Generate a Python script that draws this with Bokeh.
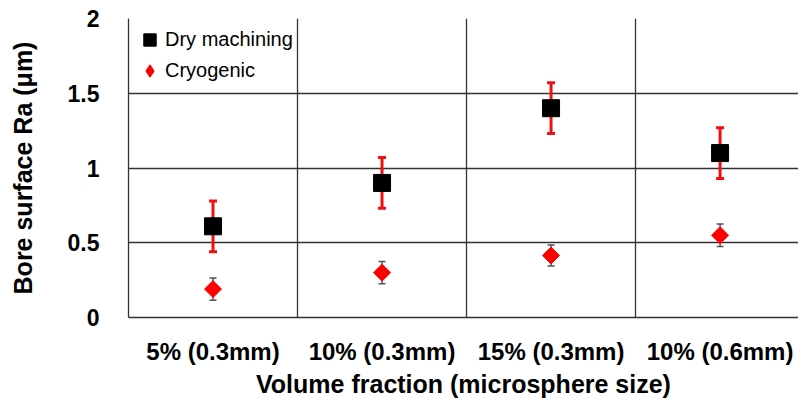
import math
from bokeh.plotting import figure
from bokeh.models import ColumnDataSource, Whisker, TeeHead, FixedTicker, Range1d, Legend, LegendItem
from bokeh.embed import file_html
from bokeh.resources import INLINE

categories = ["5% (0.3mm)", "10% (0.3mm)", "15% (0.3mm)", "10% (0.6mm)"]
dry_mean = [0.61, 0.90, 1.40, 1.10]
dry_err = [0.17, 0.17, 0.17, 0.17]
cryo_mean = [0.19, 0.30, 0.415, 0.55]
cryo_err = [0.075, 0.075, 0.07, 0.075]
y_ticks = [0, 0.5, 1, 1.5, 2]
y_tick_labels = ["0", "0.5", "1", "1.5", "2"]

xpos = [i + 0.5 for i in range(len(categories))]
FONT = "Liberation Sans"

dry = ColumnDataSource(dict(x=xpos, y=dry_mean,
                            lo=[m - e for m, e in zip(dry_mean, dry_err)],
                            hi=[m + e for m, e in zip(dry_mean, dry_err)]))
cryo = ColumnDataSource(dict(x=xpos, y=cryo_mean,
                             lo=[m - e for m, e in zip(cryo_mean, cryo_err)],
                             hi=[m + e for m, e in zip(cryo_mean, cryo_err)]))

p = figure(width=798, height=400, output_backend="svg", toolbar_location=None,
           x_range=Range1d(0, 3.964), y_range=Range1d(0, 2),
           min_border_left=128, min_border_right=0, min_border_top=18, min_border_bottom=83)
p.outline_line_color = None
p.background_fill_color = "white"

# error bars
wd = Whisker(source=dry, base="x", upper="hi", lower="lo", line_color="#ee1111", line_width=3,
             upper_head=TeeHead(size=8, line_color="#ee1111", line_width=3),
             lower_head=TeeHead(size=8, line_color="#ee1111", line_width=3))
wc = Whisker(source=cryo, base="x", upper="hi", lower="lo", line_color="#555555", line_width=1.5,
             upper_head=TeeHead(size=7, line_color="#555555", line_width=1.5),
             lower_head=TeeHead(size=7, line_color="#555555", line_width=1.5))
p.add_layout(wd)
p.add_layout(wc)

r_dry = p.scatter("x", "y", source=dry, marker="square", size=17, fill_color="black", line_color="black")
# diamond glyph (used for the legend key), covered by the rotated square of the same colour
r_cryo = p.scatter("x", "y", source=cryo, marker="diamond", size=12, fill_color="#ff0000", line_color="#ff0000")
p.scatter("x", "y", source=cryo, marker="square", size=12, angle=math.pi / 4,
          fill_color="#ff0000", line_color="#ff0000")

# grids
p.xgrid.ticker = FixedTicker(ticks=[1, 2, 3])
p.ygrid.ticker = FixedTicker(ticks=[0.5, 1, 1.5, 2])
for g in (p.xgrid, p.ygrid):
    g.grid_line_color = "#333333"
    g.grid_line_width = 1.3
    g.grid_line_alpha = 1

# axes
p.xaxis.ticker = FixedTicker(ticks=xpos)
p.xaxis.major_label_overrides = {x: c for x, c in zip(xpos, categories)}
p.yaxis.ticker = FixedTicker(ticks=y_ticks)
p.yaxis.major_label_overrides = {t: l for t, l in zip(y_ticks, y_tick_labels)}
for ax in (p.xaxis, p.yaxis):
    ax.axis_line_color = "#333333"
    ax.axis_line_width = 1.3
    ax.major_tick_line_color = None
    ax.minor_tick_line_color = None
    ax.major_label_text_font = FONT
    ax.major_label_text_font_style = "bold"
    ax.major_label_text_color = "black"
    ax.axis_label_text_font = FONT
    ax.axis_label_text_font_style = "bold"
    ax.axis_label_text_color = "black"
p.xaxis.major_label_text_font_size = "24px"
p.yaxis.major_label_text_font_size = "23px"
p.xaxis.major_label_standoff = 14
p.yaxis.major_label_standoff = 23
p.xaxis.axis_label = "Volume fraction (microsphere size)"
p.yaxis.axis_label = "Bore surface Ra (μm)"
p.xaxis.axis_label_text_font_size = "25px"
p.yaxis.axis_label_text_font_size = "25px"
p.xaxis.axis_label_standoff = 2
p.yaxis.axis_label_standoff = 28

legend = Legend(items=[LegendItem(label="Dry machining", renderers=[r_dry]),
                       LegendItem(label="Cryogenic", renderers=[r_cryo])],
                location="top_left", background_fill_alpha=0, border_line_color=None,
                label_text_font=FONT, label_text_font_size="20px", label_text_color="black",
                glyph_width=31, glyph_height=31, spacing=0, label_standoff=-11,
                padding=14, margin=6)
p.add_layout(legend)

open("out.html", "w").write(file_html(p, INLINE))
